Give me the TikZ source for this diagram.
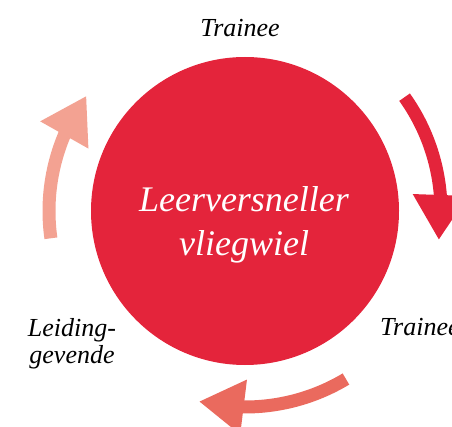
\documentclass[tikz,border=0pt]{standalone}
\usepackage{fontspec}
\setmainfont{Liberation Serif}
\usetikzlibrary{arrows.meta,bending,calc}

\definecolor{wheelred}{RGB}{228,36,59}
\definecolor{wheelcoral}{RGB}{234,106,94}
\definecolor{wheelsalmon}{RGB}{243,162,146}

\tikzset{
  flow/.style={line width=13pt, -{Triangle[width=52pt,length=45pt,flex]}},
  role/.style={font=\fontsize{26}{27}\selectfont\itshape, text=black, inner sep=0pt}
}

\begin{document}
\begin{tikzpicture}[x=1pt,y=1pt]
  \clip (0,0) rectangle (452,426);
  \coordinate (O) at (245,215);

  % wheel
  \fill[wheelred] (O) circle (154);
  \node[font=\fontsize{36}{44}\selectfont\itshape, text=white, align=center, anchor=base] (hub) at (244,171) {Leerversneller\\vliegwiel};

  % arrows round the wheel
  \begin{scope}
    \def\R{196}% radius of the arrows
    \draw[flow, wheelred]    ($(O)+(35.5:\R)$) arc [start angle=35.5, end angle=-8.5, radius=\R];
    \draw[flow, wheelcoral]  ($(O)+(-59:\R)$) arc [start angle=-59, end angle=-103.6, radius=\R];
    \draw[flow, wheelsalmon] ($(O)+(188:\R)$) arc [start angle=188, end angle=144, radius=\R];
  \end{scope}

  % labels
  \node[role, anchor=base] (top) at (240,389) {Trainee};
  \node[role, anchor=base west] (right) at (380,91) {Trainee};
  \node[role, align=center, anchor=base] (left) at (72,63) {Leiding-\\gevende};
\end{tikzpicture}
\end{document}
